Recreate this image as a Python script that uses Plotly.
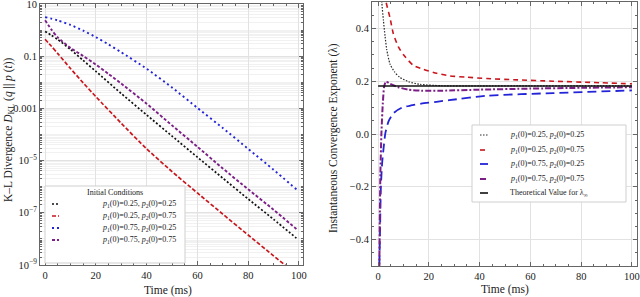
import numpy as np
import plotly.graph_objects as go

# ---------------- data ----------------
# Left panel: K-L divergence (stored as log10 values)
kl_t_a = [0, 2.5, 5, 10, 15, 20, 30, 40, 50, 60, 70, 80, 90, 99]          # p1=0.25, p2=0.25
kl_log_a = [-0.05, -0.2, -0.36, -0.74, -1.16, -1.58, -2.43, -3.25, -4.06, -4.87, -5.67, -6.47, -7.25, -7.97]

kl_t_b = [0, 2.5, 5, 10, 15, 20, 30, 40, 50, 60, 70, 80, 90, 96]           # p1=0.25, p2=0.75
kl_log_b = [-0.35, -0.62, -0.9, -1.47, -2.02, -2.55, -3.57, -4.55, -5.42, -6.24, -7.05, -7.85, -8.65, -9.12]

kl_t_c = [0, 5, 10, 15, 20, 25, 30, 40, 50, 60, 70, 80, 90, 99]            # p1=0.75, p2=0.25
kl_log_c = [0.5, 0.37, 0.2, -0.02, -0.27, -0.55, -0.85, -1.48, -2.2, -2.98, -3.75, -4.55, -5.35, -6.1]

kl_t_d = [0, 2.5, 5, 10, 15, 20, 25, 30, 40, 50, 60, 70, 80, 90, 99]       # p1=0.75, p2=0.75
kl_log_d = [0.38, 0.02, -0.28, -0.68, -0.99, -1.32, -1.68, -2.05, -2.82, -3.65, -4.47, -5.3, -6.1, -6.88, -7.62]

# Right panel: instantaneous convergence exponent
lam_t_a = [1.2, 1.45, 2.1, 2.75, 3.4, 4.7, 6.5, 8.5, 12, 16.5, 25, 40, 60, 80, 100]
lam_a = [0.56, 0.5, 0.43, 0.37, 0.32, 0.265, 0.235, 0.215, 0.198, 0.188, 0.183, 0.182, 0.182, 0.182, 0.182]

lam_t_b = [2.9, 3.15, 4.7, 6, 8, 10, 13.9, 17.8, 23.1, 28.3, 35, 42.8, 55, 69, 85, 100]
lam_b = [0.53, 0.5, 0.44, 0.38, 0.33, 0.3, 0.26, 0.245, 0.23, 0.22, 0.215, 0.21, 0.205, 0.2, 0.195, 0.19]

lam_t_c = [0.4, 0.5, 0.8, 1.1, 1.6, 2.2, 2.9, 4.2, 6.2, 9.4, 13, 17, 23, 28, 43, 69, 100]
lam_c = [-0.6, -0.5, -0.35, -0.2, -0.11, -0.05, 0.005, 0.05, 0.08, 0.1, 0.108, 0.115, 0.122, 0.128, 0.145, 0.155, 0.165]

lam_t_d = [0.4, 0.5, 0.7, 0.9, 1.3, 1.85, 2.4, 3.1, 4.8, 8, 12, 17, 25, 40, 60, 80, 100]
lam_d = [-0.6, -0.5, -0.3, -0.15, 0.0, 0.115, 0.18, 0.198, 0.19, 0.177, 0.168, 0.164, 0.164, 0.168, 0.172, 0.175, 0.177]

lam_theory_t = [0, 100]
lam_theory = [0.182, 0.182]

series_labels = [
    "<i>p</i><sub>1</sub>(0)=0.25, <i>p</i><sub>2</sub>(0)=0.25",
    "<i>p</i><sub>1</sub>(0)=0.25, <i>p</i><sub>2</sub>(0)=0.75",
    "<i>p</i><sub>1</sub>(0)=0.75, <i>p</i><sub>2</sub>(0)=0.25",
    "<i>p</i><sub>1</sub>(0)=0.75, <i>p</i><sub>2</sub>(0)=0.75",
]
theory_label = "Theoretical Value for λ<sub>∞</sub>"

x_ticks = [0, 20, 40, 60, 80, 100]
kl_tickvals = [10, 0.1, 1e-3, 1e-5, 1e-7, 1e-9]
kl_ticktext = ["10", "0.1", "0.001", "10<sup>−5</sup>", "10<sup>−7</sup>", "10<sup>−9</sup>"]
lam_tickvals = [-0.4, -0.2, 0.0, 0.2, 0.4]
lam_ticktext = ["−0.4", "−0.2", "0.0", "0.2", "0.4"]

# ---------------- styling ----------------
W, H = 640, 297
FONT = "Liberation Serif"
RED = "#c8161d"
BLUE = "#2323d8"
PURPLE = "#7b1f86"
BLACK = "#111111"
GRAY = "#2a2a2a"

def px(x):
    return x / W

def py(y):
    return 1 - y / H

fig = go.Figure()

left_styles = [
    dict(color=BLACK, dash="2px,2px", width=1.7),
    dict(color=RED, dash="4px,2px", width=1.7),
    dict(color=BLUE, dash="2px,3px", width=1.9),
    dict(color=PURPLE, dash="3px,2px", width=1.9),
]
right_styles = [
    dict(color=GRAY, dash="1.5px,1.5px", width=1.2),
    dict(color=RED, dash="5px,4px", width=1.6),
    dict(color=BLUE, dash="9px,5px", width=1.8),
    dict(color=PURPLE, dash="6px,2px,2px,2px", width=2.0),
]

kl_sets = [(kl_t_a, kl_log_a), (kl_t_b, kl_log_b), (kl_t_c, kl_log_c), (kl_t_d, kl_log_d)]
for (t, lg), st, name in zip(kl_sets, left_styles, series_labels):
    fig.add_trace(go.Scatter(x=t, y=10 ** np.array(lg), mode="lines", name=name,
                             line=dict(shape="spline", smoothing=0.6, **st),
                             xaxis="x", yaxis="y", showlegend=False))

lam_sets = [(lam_t_a, lam_a), (lam_t_b, lam_b), (lam_t_c, lam_c), (lam_t_d, lam_d)]
for (t, v), st, name in zip(lam_sets, right_styles, series_labels):
    fig.add_trace(go.Scatter(x=t, y=v, mode="lines", name=name,
                             line=dict(shape="spline", smoothing=0.6, **st),
                             xaxis="x2", yaxis="y2", showlegend=False))
fig.add_trace(go.Scatter(x=lam_theory_t, y=lam_theory, mode="lines", name="theory",
                         line=dict(color=BLACK, width=1.6), xaxis="x2", yaxis="y2",
                         showlegend=False))

AX = dict(showline=True, linecolor="#666666", linewidth=1, mirror="ticks",
          ticks="inside", ticklen=4, tickcolor="#666666", tickwidth=1,
          showgrid=True, gridcolor="#e2e2e2", gridwidth=1, zeroline=False,
          ticklabeloverflow="allow",
          tickfont=dict(family=FONT, size=10.5, color="#222222"), automargin=False)

minor_log = [k * 10.0 ** n for n in range(-9, 1) for k in range(1, 10)
             if not any(abs(k * 10.0 ** n - tv) / tv < 1e-9 for tv in kl_tickvals)]

fig.update_layout(
    width=W, height=H, margin=dict(l=0, r=0, t=0, b=0),
    paper_bgcolor="white", plot_bgcolor="white", showlegend=False,
    font=dict(family=FONT, color="#222222"),
    xaxis=dict(domain=[px(40), px(303)], range=[-2, 101.6], tickvals=x_ticks,
               minor=dict(dtick=5, tick0=0, ticks="inside", ticklen=2, tickcolor="#666666", showgrid=False),
               anchor="y", **AX),
    yaxis=dict(domain=[py(265), py(4)], type="log", range=[-9, 1],
               tickvals=kl_tickvals, ticktext=kl_ticktext,
               minor=dict(tickvals=minor_log, ticks="inside", ticklen=2, tickcolor="#666666",
                          showgrid=True, gridcolor="#f1f1f1"),
               anchor="x", **AX),
    xaxis2=dict(domain=[px(372), px(637)], range=[-2.4, 102], tickvals=x_ticks,
                minor=dict(dtick=5, tick0=0, ticks="inside", ticklen=2, tickcolor="#666666", showgrid=False),
                anchor="y2", **AX),
    yaxis2=dict(domain=[py(266), py(2)], range=[-0.5, 0.5],
                tickvals=lam_tickvals, ticktext=lam_ticktext,
                minor=dict(dtick=0.05, tick0=0, ticks="inside", ticklen=2, tickcolor="#666666", showgrid=False),
                anchor="x2", **AX),
)

shapes = []
annotations = []

# axis titles
TITLE_FONT = dict(family=FONT, size=11.5, color="#222222")
annotations.append(dict(text="Time (ms)", x=px(168), y=py(290), xref="paper", yref="paper",
                        showarrow=False, font=TITLE_FONT, xanchor="center", yanchor="middle"))
annotations.append(dict(text="Time (ms)", x=px(505), y=py(289), xref="paper", yref="paper",
                        showarrow=False, font=TITLE_FONT, xanchor="center", yanchor="middle"))
annotations.append(dict(text="K–L Divergence <i>D</i><sub>KL</sub> (<i>q</i> || <i>p</i> (<i>t</i>))",
                        x=px(9), y=py(130), xref="paper", yref="paper", textangle=-90,
                        showarrow=False, font=TITLE_FONT, xanchor="center", yanchor="middle"))
annotations.append(dict(text="Instantaneous Convergence Exponent (λ)",
                        x=px(333), y=py(138), xref="paper", yref="paper", textangle=-90,
                        showarrow=False, font=TITLE_FONT, xanchor="center", yanchor="middle"))

LEG_FONT = dict(family=FONT, size=8, color="#222222")

# left legend
shapes.append(dict(type="rect", xref="paper", yref="paper", x0=px(45), x1=px(185),
                   y0=py(263), y1=py(186), line=dict(color="#cfcfcf", width=1),
                   fillcolor="white", layer="above"))
annotations.append(dict(text="Initial Conditions", x=px(115), y=py(192), xref="paper", yref="paper",
                        showarrow=False, font=LEG_FONT, xanchor="center", yanchor="middle"))
left_rows = [204, 216, 228, 240]
for yr, st, name in zip(left_rows, left_styles, series_labels):
    shapes.append(dict(type="line", xref="paper", yref="paper", x0=px(52), x1=px(59),
                       y0=py(yr), y1=py(yr), layer="above",
                       line=dict(color=st["color"], dash=st["dash"], width=st["width"])))
    annotations.append(dict(text=name, x=px(100), y=py(yr), xref="paper", yref="paper",
                            showarrow=False, font=LEG_FONT, xanchor="left", yanchor="middle"))

# right legend
shapes.append(dict(type="rect", xref="paper", yref="paper", x0=px(472), x1=px(626),
                   y0=py(202), y1=py(125), line=dict(color="#cfcfcf", width=1),
                   fillcolor="white", layer="above"))
right_rows = [135, 150, 164, 179, 193]
right_all_styles = right_styles + [dict(color=BLACK, dash="solid", width=1.6)]
right_all_labels = series_labels + [theory_label]
for yr, st, name in zip(right_rows, right_all_styles, right_all_labels):
    shapes.append(dict(type="line", xref="paper", yref="paper", x0=px(480), x1=px(488),
                       y0=py(yr), y1=py(yr), layer="above",
                       line=dict(color=st["color"], dash=st["dash"], width=st["width"])))
    annotations.append(dict(text=name, x=px(508), y=py(yr), xref="paper", yref="paper",
                            showarrow=False, font=LEG_FONT, xanchor="left", yanchor="middle"))

fig.update_layout(shapes=shapes, annotations=annotations)
fig.write_html("out.html", config={"displayModeBar": False},
               post_script="document.body.style.margin='0';document.body.style.padding='0';"
                           "document.documentElement.style.overflow='hidden';")
